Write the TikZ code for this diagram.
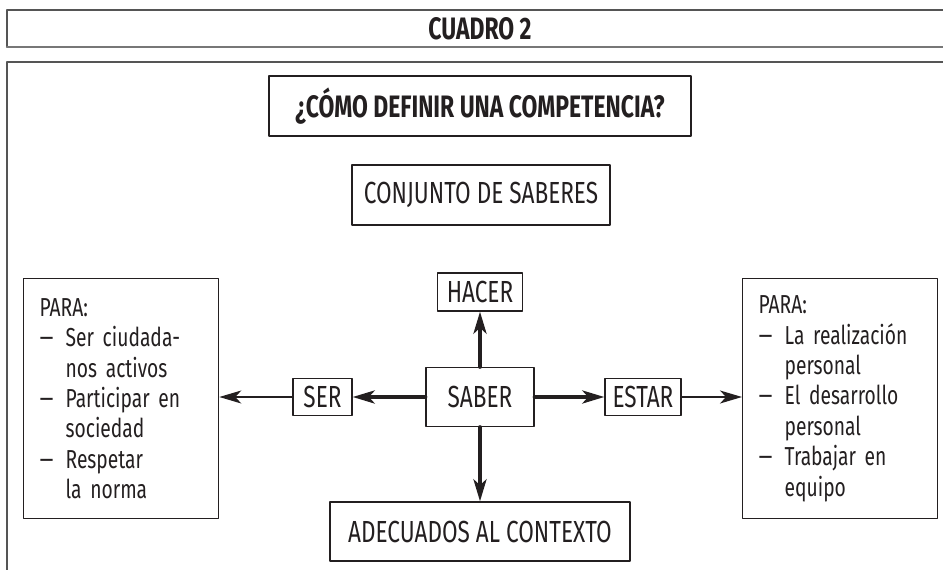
\documentclass[tikz,border=0pt]{standalone}
\usepackage{fontspec}
\setmainfont[FakeStretch=0.74]{Fira Sans}
\usetikzlibrary{arrows.meta}
\definecolor{tinta}{HTML}{231F20}
\definecolor{marco}{HTML}{555555}
\newcommand{\guion}{\makebox[26pt][l]{\scalebox{1.4}[1]{--}}}
\newcommand{\sangria}{\hspace*{26pt}}

\begin{document}
\begin{tikzpicture}[x=1pt,y=-1pt,line cap=round,line join=round,
    caja/.style={draw=tinta,line width=1.3pt,inner sep=0pt,text=tinta,
      font=\fontsize{30.5}{33}\selectfont},
    negrita/.style={font=\bfseries\fontsize{31}{33}\selectfont},
    lista/.style={caja,align=left,anchor=north west,text width=163pt,
      inner xsep=16pt,minimum height=240pt,font=\fontsize{26}{30.4}\selectfont},
    grueso/.style={draw=tinta,line width=4pt,-{Stealth[length=22pt,width=13pt,inset=6pt]}},
    fino/.style={draw=tinta,line width=1.2pt,-{Stealth[length=22pt,width=13pt,inset=6pt]}}]
  \useasboundingbox (0,0) rectangle (943,570);

  % marcos
  \draw[marco,line width=1.3pt] (943,10) -- (7,10) -- (7,47);
  \draw[marco!80,line width=2.2pt] (7,47) -- (943,47);
  \draw[marco,line width=1.3pt] (943,62) -- (7,62) -- (7,570);

  \node[negrita,text=tinta] (cuadro) at (480,28.5) {CUADRO 2};
  \node[caja,negrita,minimum width=422pt,minimum height=60pt] (pregunta) at (480,106) {¿CÓMO DEFINIR UNA COMPETENCIA?};
  \node[caja,minimum width=258pt,minimum height=60pt] (conjunto) at (481,195) {CONJUNTO DE SABERES};

  \node[caja,minimum width=85pt,minimum height=38pt] (hacer) at (480,292) {HACER};
  \node[caja,minimum width=108pt,minimum height=59pt] (saber) at (480,397) {SABER};
  \node[caja,minimum width=59pt,minimum height=37pt] (ser) at (322.5,397) {SER};
  \node[caja,minimum width=76pt,minimum height=37pt] (estar) at (643,397) {ESTAR};
  \node[caja,minimum width=300pt,minimum height=59pt] (adecuados) at (480,531.5) {ADECUADOS AL CONTEXTO};

  \node[lista] (paraizq) at (23,278) {PARA:\\
    \guion Ser ciudada-\\ \sangria nos activos\\
    \guion Participar en\\ \sangria sociedad\\
    \guion Respetar\\ \sangria la norma};
  \node[lista] (parader) at (742,278) {PARA:\\
    \guion La realización\\ \sangria personal\\
    \guion El desarrollo\\ \sangria personal\\
    \guion Trabajar en\\ \sangria equipo};

  \draw[grueso] (saber) -- (hacer);
  \draw[grueso] (saber) -- (adecuados);
  \draw[grueso] (saber) -- (ser);
  \draw[grueso] (saber) -- (estar);
  \draw[fino] (ser) -- (ser -| paraizq.east);
  \draw[fino] (estar) -- (estar -| parader.west);
\end{tikzpicture}
\end{document}
